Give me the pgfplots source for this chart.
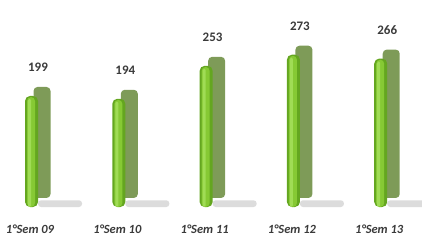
\documentclass[border=0pt]{standalone}
\usepackage{pgfplots}
\pgfplotsset{compat=1.18}
\usepackage{fontspec}
\setmainfont{Carlito}
\definecolor{lbl}{HTML}{3A3A3A}
\definecolor{gD}{HTML}{64A620}
\definecolor{gM}{HTML}{86C934}
\definecolor{gH}{HTML}{A0DC55}
\definecolor{side}{HTML}{7E9B58}
\begin{document}
\begin{tikzpicture}
\begin{axis}[
  scale only axis, width=422pt, height=207pt,
  xmin=-0.344, xmax=4.49, ymin=0, ymax=371,
  axis line style={draw=none}, tick style={draw=none},
  ytick=\empty, xtick={0,1,2,3,4},
  xticklabels={1°Sem 09,1°Sem 10,1°Sem 11,1°Sem 12,1°Sem 13},
  x tick label style={font=\fontsize{12.5}{14}\selectfont\bfseries\itshape, text=lbl, anchor=base, yshift=-26pt},
  /pgf/number format/assume math mode=true,
  clip=false,
]
% base shadow
\addplot[ybar, bar width=44pt, bar shift=30pt, draw=none,
  fill=black!25, opacity=0.55, rounded corners=3pt]
  coordinates {(0,12) (1,12) (2,12) (3,12) (4,12)};
% side face
\addplot[ybar, bar width=17pt, bar shift=12pt, yshift=9pt, draw=none, fill=side, rounded corners=4pt]
  coordinates {(0,199) (1,194) (2,253) (3,273) (4,266)};
% front face
\addplot[ybar, bar width=13pt, bar shift=1.5pt, draw=none, fill=gD, rounded corners=5pt,
  nodes near coords,
  every node near coord/.append style={font=\fontsize{13}{15}\selectfont\bfseries, text=lbl, anchor=base, yshift=24pt, xshift=8pt}]
  coordinates {(0,199) (1,194) (2,253) (3,273) (4,266)};
% front highlight
\addplot[ybar, bar width=8pt, bar shift=1pt, draw=none, fill=gM, rounded corners=4pt]
  coordinates {(0,197) (1,192) (2,251) (3,271) (4,264)};
\addplot[ybar, bar width=3pt, bar shift=-0.5pt, draw=none, fill=gH, rounded corners=1.5pt]
  coordinates {(0,194) (1,189) (2,248) (3,268) (4,261)};
\end{axis}
\pgfresetboundingbox
\path (0,-36pt) rectangle (422pt,207pt);
\end{tikzpicture}
\end{document}
